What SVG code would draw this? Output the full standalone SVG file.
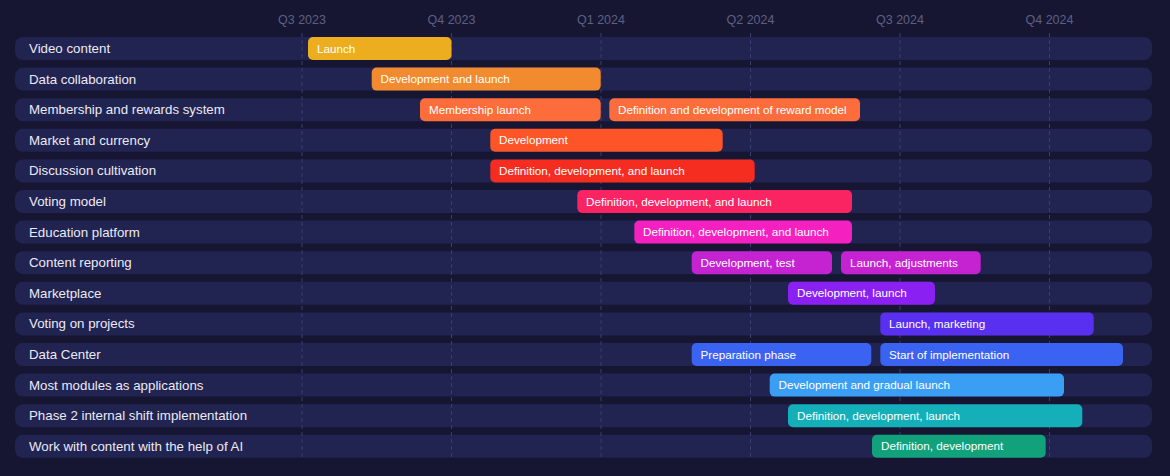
<svg xmlns="http://www.w3.org/2000/svg" width="1170" height="476" viewBox="0 0 1170 476">
  <style>
    .bg { fill: #161633; }
    .row { fill: #212350; }
    .grid { stroke: #3b3d6b; stroke-width: 1; stroke-dasharray: 4 3; }
    .q { font-family: "Liberation Sans", Arial, sans-serif; font-size: 12.5px; fill: #5d6082; text-anchor: middle; }
    .lbl { font-family: "Liberation Sans", Arial, sans-serif; font-size: 13.3px; fill: #eceaf5; }
    .bt { font-family: "Liberation Sans", Arial, sans-serif; font-size: 11.7px; fill: #ffffff; }
  </style>
  <rect class="bg" x="0" y="0" width="1170" height="476"/>

  <!-- row tracks -->
  <g id="rows">
    <rect class="row" x="15" y="37" width="1137" height="23" rx="8"/>
    <rect class="row" x="15" y="67.6" width="1137" height="23" rx="8"/>
    <rect class="row" x="15" y="98.2" width="1137" height="23" rx="8"/>
    <rect class="row" x="15" y="128.8" width="1137" height="23" rx="8"/>
    <rect class="row" x="15" y="159.4" width="1137" height="23" rx="8"/>
    <rect class="row" x="15" y="190" width="1137" height="23" rx="8"/>
    <rect class="row" x="15" y="220.6" width="1137" height="23" rx="8"/>
    <rect class="row" x="15" y="251.2" width="1137" height="23" rx="8"/>
    <rect class="row" x="15" y="281.8" width="1137" height="23" rx="8"/>
    <rect class="row" x="15" y="312.4" width="1137" height="23" rx="8"/>
    <rect class="row" x="15" y="343" width="1137" height="23" rx="8"/>
    <rect class="row" x="15" y="373.6" width="1137" height="23" rx="8"/>
    <rect class="row" x="15" y="404.2" width="1137" height="23" rx="8"/>
    <rect class="row" x="15" y="434.8" width="1137" height="23" rx="8"/>
  </g>

  <!-- quarter axis -->
  <g id="axis">
    <text class="q" x="302" y="24">Q3 2023</text>
    <text class="q" x="451.5" y="24">Q4 2023</text>
    <text class="q" x="601" y="24">Q1 2024</text>
    <text class="q" x="750.5" y="24">Q2 2024</text>
    <text class="q" x="900" y="24">Q3 2024</text>
    <text class="q" x="1049.5" y="24">Q4 2024</text>
    <line class="grid" x1="302" y1="33" x2="302" y2="460"/>
    <line class="grid" x1="451.5" y1="33" x2="451.5" y2="460"/>
    <line class="grid" x1="601" y1="33" x2="601" y2="460"/>
    <line class="grid" x1="750.5" y1="33" x2="750.5" y2="460"/>
    <line class="grid" x1="900" y1="33" x2="900" y2="460"/>
    <line class="grid" x1="1049.5" y1="33" x2="1049.5" y2="460"/>
  </g>

  <!-- row labels -->
  <g id="labels">
    <text class="lbl" x="29" y="53">Video content</text>
    <text class="lbl" x="29" y="83.6">Data collaboration</text>
    <text class="lbl" x="29" y="114.2">Membership and rewards system</text>
    <text class="lbl" x="29" y="144.8">Market and currency</text>
    <text class="lbl" x="29" y="175.4">Discussion cultivation</text>
    <text class="lbl" x="29" y="206">Voting model</text>
    <text class="lbl" x="29" y="236.6">Education platform</text>
    <text class="lbl" x="29" y="267.2">Content reporting</text>
    <text class="lbl" x="29" y="297.8">Marketplace</text>
    <text class="lbl" x="29" y="328.4">Voting on projects</text>
    <text class="lbl" x="29" y="359">Data Center</text>
    <text class="lbl" x="29" y="389.6">Most modules as applications</text>
    <text class="lbl" x="29" y="420.2">Phase 2 internal shift implementation</text>
    <text class="lbl" x="29" y="450.8">Work with content with the help of AI</text>
  </g>

  <!-- task bars -->
  <g id="bar-video">
    <rect x="308" y="37" width="143.5" height="23" rx="5" fill="#ecae1f"/>
    <text class="bt" x="317" y="52.5">Launch</text>
  </g>
  <g id="bar-data-collab">
    <rect x="371.7" y="67.6" width="229" height="23" rx="5" fill="#f28b2f"/>
    <text class="bt" x="380.5" y="83.1">Development and launch</text>
  </g>
  <g id="bar-membership">
    <rect x="420" y="98.2" width="180.7" height="23" rx="5" fill="#fd6d3c"/>
    <text class="bt" x="429" y="113.7">Membership launch</text>
    <rect x="609.3" y="98.2" width="250.7" height="23" rx="5" fill="#fd6d3c"/>
    <text class="bt" x="618" y="113.7">Definition and development of reward model</text>
  </g>
  <g id="bar-market">
    <rect x="490.3" y="128.8" width="232.4" height="23" rx="5" fill="#fd5527"/>
    <text class="bt" x="499" y="144.3">Development</text>
  </g>
  <g id="bar-discussion">
    <rect x="490.3" y="159.4" width="264.4" height="23" rx="5" fill="#f52d20"/>
    <text class="bt" x="499" y="174.9">Definition, development, and launch</text>
  </g>
  <g id="bar-voting-model">
    <rect x="577.3" y="190" width="274.7" height="23" rx="5" fill="#fb2462"/>
    <text class="bt" x="586" y="205.5">Definition, development, and launch</text>
  </g>
  <g id="bar-education">
    <rect x="634.3" y="220.6" width="217.7" height="23" rx="5" fill="#f421c0"/>
    <text class="bt" x="643" y="236.1">Definition, development, and launch</text>
  </g>
  <g id="bar-reporting">
    <rect x="691.7" y="251.2" width="140.3" height="23" rx="5" fill="#c522d2"/>
    <text class="bt" x="700.5" y="266.7">Development, test</text>
    <rect x="841" y="251.2" width="139.7" height="23" rx="5" fill="#c522d2"/>
    <text class="bt" x="850" y="266.7">Launch, adjustments</text>
  </g>
  <g id="bar-marketplace">
    <rect x="788" y="281.8" width="147" height="23" rx="5" fill="#8a20f2"/>
    <text class="bt" x="797" y="297.3">Development, launch</text>
  </g>
  <g id="bar-voting-projects">
    <rect x="880.3" y="312.4" width="213.4" height="23" rx="5" fill="#5a30f0"/>
    <text class="bt" x="889" y="327.9">Launch, marketing</text>
  </g>
  <g id="bar-data-center">
    <rect x="691.7" y="343" width="179.6" height="23" rx="5" fill="#3a63f2"/>
    <text class="bt" x="700.5" y="358.5">Preparation phase</text>
    <rect x="880.3" y="343" width="242.7" height="23" rx="5" fill="#3a63f2"/>
    <text class="bt" x="889" y="358.5">Start of implementation</text>
  </g>
  <g id="bar-modules">
    <rect x="769.7" y="373.6" width="294.3" height="23" rx="5" fill="#3a9ef5"/>
    <text class="bt" x="778.5" y="389.1">Development and gradual launch</text>
  </g>
  <g id="bar-phase2">
    <rect x="788" y="404.2" width="294.3" height="23" rx="5" fill="#14afb8"/>
    <text class="bt" x="797" y="419.7">Definition, development, launch</text>
  </g>
  <g id="bar-ai">
    <rect x="872" y="434.8" width="173.7" height="23" rx="5" fill="#11a17b"/>
    <text class="bt" x="881" y="450.3">Definition, development</text>
  </g>
</svg>
